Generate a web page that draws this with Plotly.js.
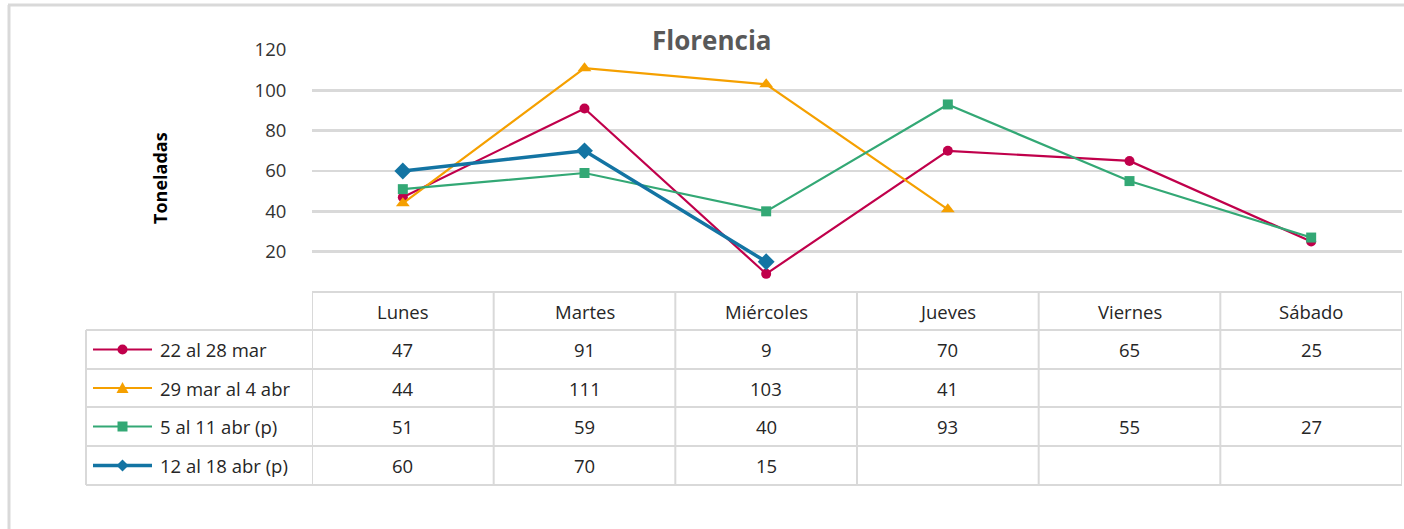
<!DOCTYPE html>
<html>
<head>
<meta charset="utf-8">
<script src="https://cdn.plot.ly/plotly-3.0.1.min.js"></script>
<style>html,body{margin:0;padding:0;background:#fff;}#chart{width:1404px;height:529px;}</style>
</head>
<body>
<div id="chart"></div>
<script>
const categories = ["Lunes", "Martes", "Miércoles", "Jueves", "Viernes", "Sábado"];
const seriesNames = ["22 al 28 mar", "29 mar al 4 abr", "5 al 11 abr (p)", "12 al 18 abr (p)"];
const s1 = [47, 91, 9, 70, 65, 25];
const s2 = [44, 111, 103, 41, null, null];
const s3 = [51, 59, 40, 93, 55, 27];
const s4 = [60, 70, 15, null, null, null];
const yTicks = [20, 40, 60, 80, 100, 120];
const chartTitle = "Florencia";
const yTitle = "Toneladas";

const seriesValues = [s1, s2, s3, s4];
const colors = ["#C0004B", "#F5A000", "#33A875", "#1374A3"];
const symbols = ["circle", "triangle-up", "square", "diamond"];
const msizes = [10, 12, 10, 13];
const lwidths = [2.2, 2.2, 2.2, 3.5];

const W = 1404, H = 529;
const L = 312, R = 1402, T = 50, B = 292;
const px = v => (v - L) / (R - L);
const py = v => (B - v) / (B - T);
const xi = categories.map((c, i) => i);
const FONT = "'Open Sans', Lato, sans-serif";

const traces = seriesValues.map((vals, k) => ({
  type: "scatter", mode: "lines+markers", x: xi, y: vals, name: seriesNames[k],
  connectgaps: false,
  line: {color: colors[k], width: lwidths[k]},
  marker: {color: colors[k], symbol: symbols[k], size: msizes[k]},
  hoverinfo: "skip"
}));

const gridC = "#D9D9D9";
const shapes = [];
const annotations = [];
shapes.push({type: "line", xref: "paper", yref: "paper", x0: px(8), x1: px(1404), y0: py(5), y1: py(5), line: {color: gridC, width: 3}});
shapes.push({type: "line", xref: "paper", yref: "paper", x0: px(9), x1: px(9), y0: py(5), y1: py(529), line: {color: gridC, width: 3}});

const rowLines = [292, 330, 369, 407, 446, 485];
const rowCenters = [311, 349.5, 388, 426.5, 465.5];
shapes.push({type: "line", xref: "paper", yref: "paper", x0: px(312), x1: px(1402), y0: py(rowLines[0]), y1: py(rowLines[0]), line: {color: gridC, width: 2}});
for (let r = 1; r < rowLines.length; r++) {
  shapes.push({type: "line", xref: "paper", yref: "paper", x0: px(86), x1: px(1402), y0: py(rowLines[r]), y1: py(rowLines[r]), line: {color: gridC, width: 2}});
}
shapes.push({type: "line", xref: "paper", yref: "paper", x0: px(86), x1: px(86), y0: py(rowLines[1]), y1: py(rowLines[5]), line: {color: gridC, width: 2}});
for (let i = 0; i <= categories.length; i++) {
  shapes.push({type: "line", xref: "x", yref: "paper", x0: i - 0.5, x1: i - 0.5, y0: py(rowLines[0]), y1: py(rowLines[5]), line: {color: gridC, width: 2}});
}
const tf = {family: FONT, size: 18.5, color: "#262626"};
categories.forEach((c, i) => {
  annotations.push({xref: "x", yref: "paper", x: i, y: py(rowCenters[0]), text: c, showarrow: false, font: tf, xanchor: "center", yanchor: "middle"});
});
seriesValues.forEach((vals, k) => {
  const yc = py(rowCenters[k + 1]);
  vals.forEach((v, i) => {
    if (v !== null) annotations.push({xref: "x", yref: "paper", x: i, y: yc, text: String(v), showarrow: false, font: tf, xanchor: "center", yanchor: "middle"});
  });
  annotations.push({xref: "paper", yref: "paper", x: px(158), y: yc, text: seriesNames[k], showarrow: false, font: tf, xanchor: "left", yanchor: "middle"});
  const yp = rowCenters[k + 1];
  shapes.push({type: "line", xref: "paper", yref: "paper", x0: px(93), x1: px(152), y0: py(yp), y1: py(yp), line: {color: colors[k], width: lwidths[k]}});
  const cx = 122.5;
  let path;
  if (k === 0) {
    shapes.push({type: "circle", xref: "paper", yref: "paper", x0: px(cx - 5), x1: px(cx + 5), y0: py(yp - 5), y1: py(yp + 5), fillcolor: colors[k], line: {width: 0}});
  } else if (k === 1) {
    path = `M ${px(cx - 6)} ${py(yp + 5)} L ${px(cx + 6)} ${py(yp + 5)} L ${px(cx)} ${py(yp - 6)} Z`;
  } else if (k === 2) {
    shapes.push({type: "rect", xref: "paper", yref: "paper", x0: px(cx - 5), x1: px(cx + 5), y0: py(yp - 5), y1: py(yp + 5), fillcolor: colors[k], line: {width: 0}});
  } else {
    path = `M ${px(cx - 6)} ${py(yp)} L ${px(cx)} ${py(yp - 6)} L ${px(cx + 6)} ${py(yp)} L ${px(cx)} ${py(yp + 6)} Z`;
  }
  if (path) shapes.push({type: "path", xref: "paper", yref: "paper", path: path, fillcolor: colors[k], line: {width: 0}});
});

annotations.push({xref: "paper", yref: "paper", x: px(712), y: py(40), text: "<b>" + chartTitle + "</b>", showarrow: false, xanchor: "center", yanchor: "middle",
  font: {family: FONT, size: 26, color: "#595959"}});
annotations.push({xref: "paper", yref: "paper", x: px(160), y: py(178), text: "<b>" + yTitle + "</b>", showarrow: false, textangle: -90, xanchor: "center", yanchor: "middle",
  font: {family: FONT, size: 18, color: "#000000"}});

const layout = {
  width: W, height: H,
  margin: {l: L, r: W - R, t: T, b: H - B, pad: 0},
  paper_bgcolor: "#ffffff", plot_bgcolor: "#ffffff",
  showlegend: false,
  xaxis: {range: [-0.5, 5.5], showgrid: false, zeroline: false, showticklabels: false, ticks: "", showline: false, fixedrange: true},
  yaxis: {range: [0, 120], tickvals: yTicks, ticktext: yTicks.map(String), showgrid: true, gridcolor: gridC, gridwidth: 2.5,
    zeroline: false, showline: false, ticks: "outside", ticklen: 21, tickcolor: "rgba(0,0,0,0)",
    tickfont: {family: FONT, size: 18.5, color: "#333333"}, fixedrange: true},
  shapes: shapes,
  annotations: annotations
};
Plotly.newPlot("chart", traces, layout, {staticPlot: true, displayModeBar: false});
</script>
</body>
</html>
